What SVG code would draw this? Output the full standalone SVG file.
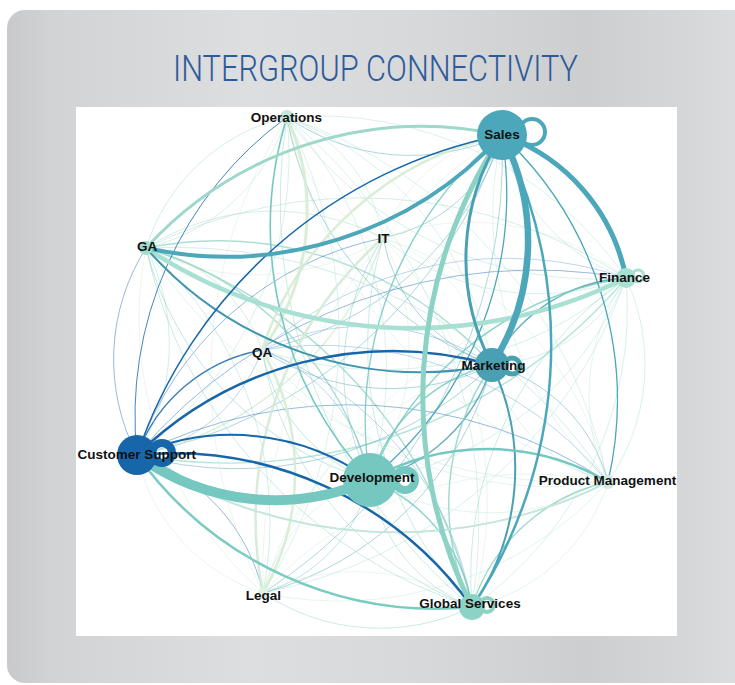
<svg xmlns="http://www.w3.org/2000/svg" width="735" height="685" viewBox="0 0 735 685">
  <defs>
    <linearGradient id="panelFill" x1="0" y1="0" x2="1" y2="0">
      <stop offset="0" stop-color="#c8c9cb"/>
      <stop offset="0.06" stop-color="#d2d3d5"/>
      <stop offset="0.32" stop-color="#dddee0"/>
      <stop offset="0.55" stop-color="#d7d8da"/>
      <stop offset="0.76" stop-color="#cdcecf"/>
      <stop offset="0.9" stop-color="#d6d7d9"/>
      <stop offset="1" stop-color="#e0e1e3"/>
    </linearGradient>
    <clipPath id="plotClip">
      <rect x="76" y="107" width="601" height="529"/>
    </clipPath>
    <style>
      .title { font-family: 'Liberation Sans Narrow', Roboto, 'Liberation Sans', sans-serif; font-weight: 300; font-size: 37.5px; fill: #2d5a99; }
      .lbl { font-family: 'Liberation Sans', Arial, sans-serif; font-weight: bold; font-size: 13.5px; fill: #111; text-anchor: middle; }
      #edges path { fill: none; stroke-linecap: round; }
      .f { stroke-width: 0.9; opacity: 0.5; }
      .h { stroke-width: 1.4; opacity: 0.85; }
      .cS { stroke: #4ba7b9; }
      .cM { stroke: #4aa0b3; }
      .cC { stroke: #1766aa; }
      .cD { stroke: #74c8c0; }
      .cG { stroke: #8dd3c5; }
      .cA { stroke: #9fd8cb; }
      .cF { stroke: #a8e0d4; }
      .cO { stroke: #b3e0d5; }
      .cP { stroke: #c4e6dc; }
      .cL { stroke: #d3ead6; }
      .cI { stroke: #d5ecd3; }
      .cQ { stroke: #6fa6d6; }
      .loop { fill: none; }
    </style>
  </defs>

  <!-- panel and plot area -->
  <rect x="0" y="0" width="735" height="685" fill="#ffffff"/>
  <rect x="7" y="10" width="760" height="673" rx="18" fill="url(#panelFill)"/>
  <text class="title" x="375.5" y="81" text-anchor="middle" textLength="405" lengthAdjust="spacingAndGlyphs">INTERGROUP CONNECTIVITY</text>
  <rect x="76" y="107" width="601" height="529" fill="#ffffff"/>

  <!-- connectors: arcs from source to target -->
  <g id="edges" clip-path="url(#plotClip)">
    <!-- faint links -->
    <path class="cS f" d="M502 135 A216 216 0 0 1 287 117"/>
    <path class="cS f" d="M502 135 A157 157 0 0 1 383 238"/>
    <path class="cS f" d="M502 135 A322 322 0 0 1 262 350"/>
    <path class="cS f" d="M502 135 A485 485 0 0 1 137 455"/>
    <path class="cS f" d="M502 135 A517 517 0 0 1 263 593"/>

    <path class="cO f" d="M287 117 A155 155 0 0 1 383 238"/>
    <path class="cO f" d="M287 117 A193 193 0 0 1 146 248"/>
    <path class="cO f" d="M287 117 A375 375 0 0 1 626 278"/>
    <path class="cO f" d="M287 117 A322 322 0 0 1 492 365"/>
    <path class="cO f" d="M287 117 A372 372 0 0 1 370 480"/>
    <path class="cO f" d="M287 117 A486 486 0 0 1 608 482"/>
    <path class="cO f" d="M287 117 A477 477 0 0 1 263 593"/>
    <path class="cO f" d="M287 117 A524 524 0 0 1 472 607"/>
    <path class="cO f" d="M287 117 A370 370 0 0 1 137 455"/>

    <path class="cI f" d="M383 238 A237 237 0 0 1 146 248"/>
    <path class="cI f" d="M383 238 A246 246 0 0 1 626 278"/>
    <path class="cI f" d="M383 238 A167 167 0 0 1 492 365"/>
    <path class="cI h" d="M383 238 A328 328 0 0 1 137 455"/>
    <path class="cI f" d="M383 238 A242 242 0 0 1 370 480"/>
    <path class="cI f" d="M383 238 A332 332 0 0 1 608 482"/>
    <path class="cI f" d="M383 238 A380 380 0 0 1 472 607"/>
    <path class="cI f" d="M383 238 A157 157 0 0 1 502 135"/>
    <path class="cI f" d="M383 238 A155 155 0 0 1 287 117"/>

    <path class="cA f" d="M146 248 A481 481 0 0 1 626 278"/>
    <path class="cA f" d="M146 248 A155 155 0 0 1 262 350"/>
    <path class="cA f" d="M146 248 A207 207 0 0 1 137 455"/>
    <path class="cA f" d="M146 248 A518 518 0 0 1 608 482"/>
    <path class="cA f" d="M146 248 A364 364 0 0 1 263 593"/>
    <path class="cA h" d="M146 248 A485 485 0 0 1 472 607"/>
    <path class="cA f" d="M146 248 A237 237 0 0 1 383 238"/>
    <path class="cA f" d="M146 248 A193 193 0 0 1 287 117"/>
    <path class="cA h" d="M146 248 A365 365 0 0 1 492 365"/>
    <path class="cA h" d="M146 248 A323 323 0 0 1 370 480"/>

    <path class="cF f" d="M626 278 A371 371 0 0 1 262 350"/>
    <path class="cF f" d="M626 278 A160 160 0 0 1 492 365"/>
    <path class="cF h" d="M626 278 A520 520 0 0 1 137 455"/>
    <path class="cF f" d="M626 278 A326 326 0 0 1 370 480"/>
    <path class="cF f" d="M626 278 A205 205 0 0 1 608 482"/>
    <path class="cF f" d="M626 278 A481 481 0 0 1 263 593"/>
    <path class="cF f" d="M626 278 A363 363 0 0 1 472 607"/>
    <path class="cF f" d="M626 278 A189 189 0 0 1 502 135"/>
    <path class="cF f" d="M626 278 A375 375 0 0 1 287 117"/>
    <path class="cF f" d="M626 278 A246 246 0 0 1 383 238"/>

    <path class="cQ f" d="M262 350 A231 231 0 0 1 492 365"/>
    <path class="cQ f" d="M262 350 A163 163 0 0 1 137 455"/>
    <path class="cQ f" d="M262 350 A169 169 0 0 1 370 480"/>
    <path class="cQ f" d="M262 350 A370 370 0 0 1 608 482"/>
    <path class="cQ f" d="M262 350 A332 332 0 0 1 472 607"/>
    <path class="cQ f" d="M262 350 A371 371 0 0 1 626 278"/>

    <path class="cM h" d="M492 365 A160 160 0 0 1 626 278"/>
    <path class="cM f" d="M492 365 A165 165 0 0 1 608 482"/>
    <path class="cM f" d="M492 365 A231 231 0 0 1 262 350"/>
    <path class="cM f" d="M492 365 A167 167 0 0 1 383 238"/>
    <path class="cM f" d="M492 365 A322 322 0 0 1 287 117"/>
    <path class="cM f" d="M492 365 A366 366 0 0 1 137 455"/>
    <path class="cM f" d="M492 365 A323 323 0 0 1 263 593"/>
    <path class="cM h" d="M492 365 A168 168 0 0 1 370 480"/>

    <path class="cC f" d="M137 455 A472 472 0 0 1 608 482"/>
    <path class="cC f" d="M137 455 A187 187 0 0 1 263 593"/>
    <path class="cC f" d="M137 455 A520 520 0 0 1 626 278"/>
    <path class="cC f" d="M137 455 A207 207 0 0 1 146 248"/>
    <path class="cC h" d="M137 455 A163 163 0 0 1 262 350"/>
    <path class="cC f" d="M137 455 A328 328 0 0 1 383 238"/>

    <path class="cD f" d="M370 480 A156 156 0 0 1 263 593"/>
    <path class="cD h" d="M370 480 A163 163 0 0 1 472 607"/>
    <path class="cD f" d="M370 480 A242 242 0 0 1 383 238"/>
    <path class="cD f" d="M370 480 A169 169 0 0 1 262 350"/>
    <path class="cD h" d="M370 480 A369 369 0 0 1 502 135"/>
    <path class="cD h" d="M370 480 A168 168 0 0 1 492 365"/>
    <path class="cD h" d="M370 480 A326 326 0 0 1 626 278"/>
    <path class="cD f" d="M370 480 A323 323 0 0 1 146 248"/>

    <path class="cP f" d="M608 482 A362 362 0 0 1 263 593"/>
    <path class="cP f" d="M608 482 A185 185 0 0 1 472 607"/>
    <path class="cP f" d="M608 482 A363 363 0 0 1 502 135"/>
    <path class="cP f" d="M608 482 A205 205 0 0 1 626 278"/>
    <path class="cP f" d="M608 482 A165 165 0 0 1 492 365"/>
    <path class="cP f" d="M608 482 A518 518 0 0 1 146 248"/>
    <path class="cP f" d="M608 482 A486 486 0 0 1 287 117"/>
    <path class="cP f" d="M608 482 A370 370 0 0 1 262 350"/>
    <path class="cP h" d="M608 482 A472 472 0 0 1 137 455"/>
    <path class="cP f" d="M608 482 A238 238 0 0 1 370 480"/>

    <path class="cL f" d="M263 593 A210 210 0 0 1 472 607"/>
    <path class="cL f" d="M263 593 A477 477 0 0 1 287 117"/>
    <path class="cL f" d="M263 593 A517 517 0 0 1 502 135"/>
    <path class="cL f" d="M263 593 A156 156 0 0 1 370 480"/>
    <path class="cL f" d="M263 593 A187 187 0 0 1 137 455"/>
    <path class="cL f" d="M263 593 A323 323 0 0 1 492 365"/>
    <path class="cL f" d="M263 593 A362 362 0 0 1 608 482"/>
    <path class="cL f" d="M263 593 A481 481 0 0 1 626 278"/>
    <path class="cL f" d="M263 593 A364 364 0 0 1 146 248"/>

    <path class="cG h" d="M472 607 A243 243 0 0 1 492 365"/>
    <path class="cG f" d="M472 607 A363 363 0 0 1 626 278"/>
    <path class="cG h" d="M472 607 A185 185 0 0 1 608 482"/>
    <path class="cG f" d="M472 607 A163 163 0 0 1 370 480"/>
    <path class="cG f" d="M472 607 A210 210 0 0 1 263 593"/>
    <path class="cG f" d="M472 607 A524 524 0 0 1 287 117"/>
    <path class="cG f" d="M472 607 A485 485 0 0 1 146 248"/>
    <path class="cG f" d="M472 607 A380 380 0 0 1 383 238"/>
    <path class="cG f" d="M472 607 A332 332 0 0 1 262 350"/>

    <!-- broad pale links -->
    <path class="cI" stroke-width="3" opacity="0.9" d="M287 117 A234 234 0 0 1 262 350"/>
    <path class="cI" stroke-width="2.5" opacity="0.9" d="M262 350 A243 243 0 0 1 263 593"/>
    <path class="cI" stroke-width="2.5" opacity="0.9" d="M262 350 A322 322 0 0 1 502 135"/>
    <path class="cL" stroke-width="2.5" opacity="0.9" d="M263 593 A375 375 0 0 1 383 238"/>

    <!-- medium links -->
    <path class="cC" stroke-width="1" opacity="0.8" d="M137 455 A370 370 0 0 1 287 117"/>
    <path class="cD" stroke-width="1.6" d="M370 480 A372 372 0 0 1 287 117"/>
    <path class="cS" stroke-width="1.3" d="M502 135 A363 363 0 0 1 608 482"/>
    <path class="cS" stroke-width="1.3" d="M502 135 A369 369 0 0 1 370 480"/>
    <path class="cP" stroke-width="1.8" d="M608 482 A472 472 0 0 1 137 455"/>

    <!-- strong links -->
    <path stroke="#7ccbc2" stroke-width="2.5" d="M472 607 A368 368 0 0 1 137 455"/>
    <path stroke="#a8e0d4" stroke-width="4.5" d="M626 278 A481 481 0 0 1 146 248"/>
    <path stroke="#9fd8cb" stroke-width="3" d="M146 248 A374 374 0 0 1 502 135"/>
    <path stroke="#3f95ae" stroke-width="2" d="M492 365 A365 365 0 0 1 146 248"/>
    <path stroke="#4aa0b3" stroke-width="2" d="M492 365 A243 243 0 0 1 472 607"/>
    <path stroke="#74c8c0" stroke-width="2.5" d="M370 480 A238 238 0 0 1 608 482"/>
    <path stroke="#1766aa" stroke-width="1.5" d="M137 455 A485 485 0 0 1 502 135"/>
    <path stroke="#1766aa" stroke-width="2.5" d="M137 455 A366 366 0 0 1 492 365"/>
    <path stroke="#1766aa" stroke-width="2" d="M137 455 A234 234 0 0 1 370 480"/>
    <path stroke="#1766aa" stroke-width="2.5" d="M137 455 A368 368 0 0 1 472 607"/>
    <path stroke="#4ba7b9" stroke-width="4" d="M502 135 A374 374 0 0 1 146 248"/>
    <path stroke="#4ba7b9" stroke-width="5" d="M502 135 A189 189 0 0 1 626 278"/>
    <path stroke="#4ba7b9" stroke-width="2.5" d="M502 135 A473 473 0 0 1 472 607"/>
    <path stroke="#8dd3c5" stroke-width="5" d="M472 607 A473 473 0 0 1 502 135"/>
    <path stroke="#4aa0b3" stroke-width="3" d="M492 365 A230 230 0 0 1 502 135"/>
    <path stroke="#4ba7b9" stroke-width="6.5" d="M502 135 A230 230 0 0 1 492 365"/>
    <path stroke="#74c8c0" stroke-width="10" d="M370 480 A234 234 0 0 1 137 455"/>
  </g>

  <!-- nodes -->
  <g id="node-operations">
    <circle cx="287" cy="117" r="7" fill="#c3e7dd"/>
    <text class="lbl" x="286.5" y="122">Operations</text>
  </g>
  <g id="node-it">
    <circle cx="383" cy="238" r="3" fill="#e0f0dc"/>
    <text class="lbl" x="383.5" y="243">IT</text>
  </g>
  <g id="node-qa">
    <circle cx="262" cy="350" r="3" fill="#e3eef5"/>
    <text class="lbl" x="262" y="357">QA</text>
  </g>
  <g id="node-legal">
    <circle cx="263" cy="593" r="5" fill="#e2f1e4"/>
    <text class="lbl" x="263.5" y="600">Legal</text>
  </g>
  <g id="node-ga">
    <circle cx="146" cy="248" r="7" fill="#a3dbce"/>
    <text class="lbl" x="147" y="251">GA</text>
  </g>
  <g id="node-finance">
    <circle class="loop" cx="638" cy="276" r="6" stroke="#a8e0d4" stroke-width="3"/>
    <circle cx="626" cy="278" r="10" fill="#a8e0d4"/>
    <text class="lbl" x="624.5" y="282">Finance</text>
  </g>
  <g id="node-product-management">
    <circle cx="608" cy="482" r="7" fill="#d3ece3"/>
    <text class="lbl" x="607.5" y="485">Product Management</text>
  </g>
  <g id="node-sales">
    <circle class="loop" cx="532" cy="132" r="13" stroke="#4ba7b9" stroke-width="4"/>
    <circle cx="502" cy="135" r="25" fill="#4ba7b9"/>
    <text class="lbl" x="502" y="139">Sales</text>
  </g>
  <g id="node-marketing">
    <circle class="loop" cx="512" cy="366" r="8" stroke="#4aa0b3" stroke-width="5"/>
    <circle cx="492" cy="365" r="17" fill="#4aa0b3"/>
    <text class="lbl" x="493.5" y="370">Marketing</text>
  </g>
  <g id="node-customer-support">
    <circle class="loop" cx="162" cy="453" r="10" stroke="#1766aa" stroke-width="8"/>
    <circle cx="137" cy="455" r="20" fill="#1766aa"/>
    <text class="lbl" x="136.7" y="459">Customer Support</text>
  </g>
  <g id="node-development">
    <circle class="loop" cx="405" cy="480" r="10" stroke="#74c8c0" stroke-width="8"/>
    <circle cx="370" cy="480" r="27" fill="#74c8c0"/>
    <text class="lbl" x="372" y="482">Development</text>
  </g>
  <g id="node-global-services">
    <circle class="loop" cx="487" cy="605" r="7" stroke="#8dd3c5" stroke-width="4"/>
    <circle cx="472" cy="607" r="13" fill="#8dd3c5"/>
    <text class="lbl" x="470" y="608">Global Services</text>
  </g>
</svg>
